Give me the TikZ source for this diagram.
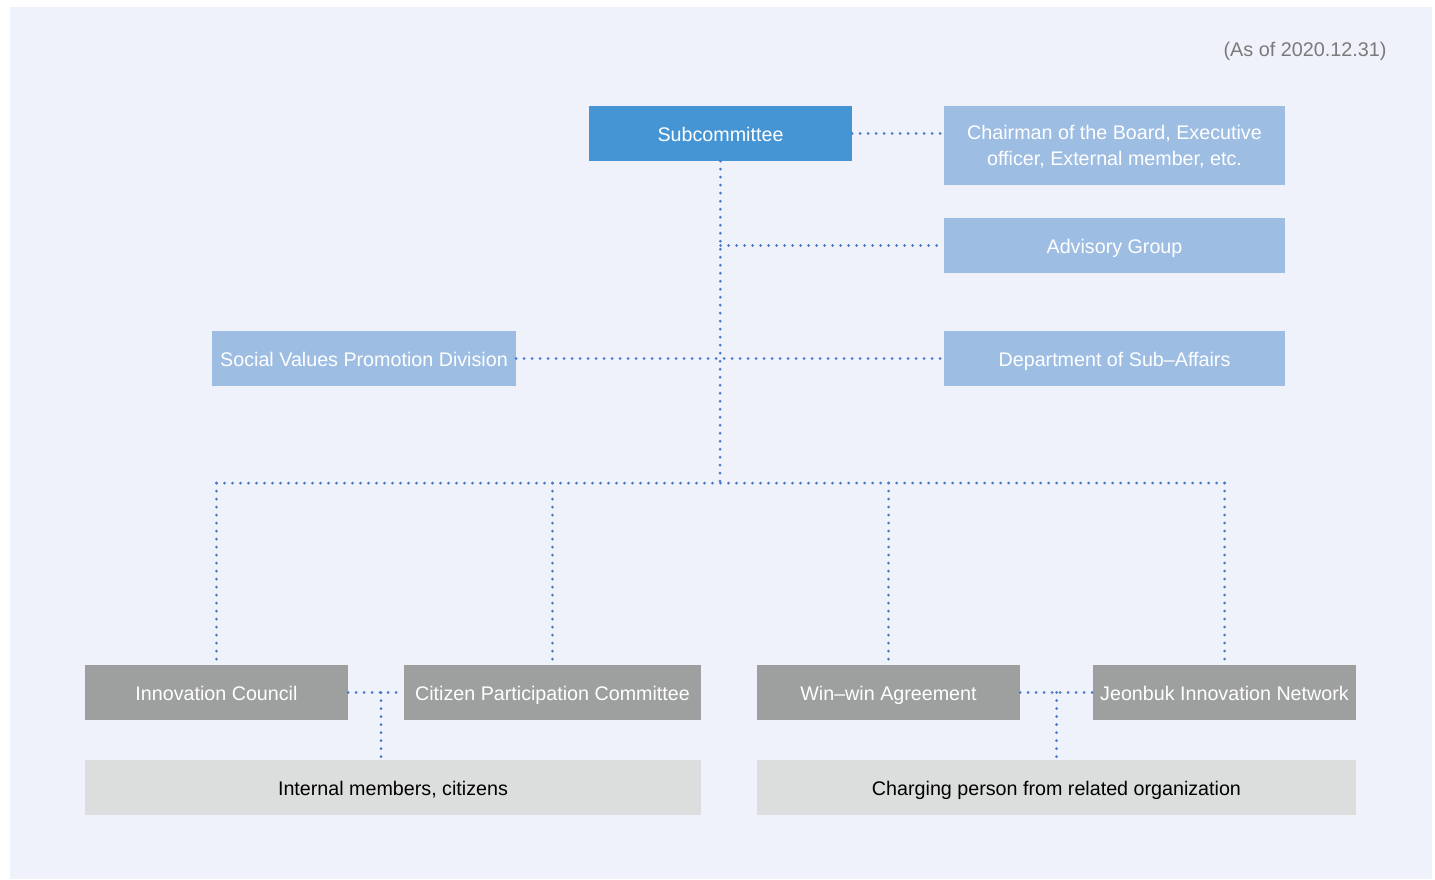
\documentclass[tikz,border=0pt]{standalone}
\usepackage{fontspec}
\setmainfont{Liberation Sans}
\usetikzlibrary{calc}
\definecolor{panel}{HTML}{EFF2FA}
\definecolor{topblue}{HTML}{4594D3}
\definecolor{lightblue}{HTML}{9DBDE3}
\definecolor{midgray}{HTML}{9E9F9F}
\definecolor{palegray}{HTML}{DCDDDD}
\definecolor{dotblue}{HTML}{4A78C9}
\definecolor{notegray}{HTML}{7A7A7A}
\tikzset{
  box/.style={rectangle, inner sep=0pt, minimum height=55pt, align=center,
    font=\fontsize{19.7}{26}\selectfont},
  onerow/.style={text height=18pt, text depth=2pt},
  headbox/.style={box, onerow, fill=topblue, text=white},
  bluebox/.style={box, fill=lightblue, text=white},
  graybox/.style={box, onerow, fill=midgray, text=white},
  palebox/.style={box, onerow, fill=palegray, text=black},
  link/.style={draw=dotblue, line width=3pt, line cap=round,
    dash pattern=on 0pt off 8pt}
}
\begin{document}
\begin{tikzpicture}[x=1pt,y=-1pt]
\useasboundingbox (0,0) rectangle (1435,879);
\fill[panel] (10,7) rectangle (1432,879);

\node[anchor=east, text=notegray, font=\fontsize{19.8}{22}\selectfont]
  (date) at (1390,51) {(As of 2020.12.31)};

% top level
\node[headbox, minimum width=263pt] (sub) at (720.5,133.5) {Subcommittee};
\node[bluebox, minimum width=341pt, minimum height=79pt, text depth=0pt] (chair) at (1114.5,145.5)
  {Chairman of the Board, Executive\\officer, External member, etc.};
\node[bluebox, onerow, minimum width=341pt] (adv) at (1114.5,245.5) {Advisory Group};
\node[bluebox, onerow, minimum width=341pt] (dept) at (1114.5,358.5) {Department of Sub\textendash Affairs};
\node[bluebox, onerow, minimum width=304pt] (social) at (364,358.5) {Social Values Promotion Division};

% bottom row
\node[graybox, minimum width=263pt] (inno) at (216.5,692.5) {Innovation Council};
\node[graybox, minimum width=297pt] (citizen) at (552.5,692.5) {Citizen Participation Committee};
\node[graybox, minimum width=263pt] (win) at (888.5,692.5) {Win\textendash win Agreement};
\node[graybox, minimum width=263pt] (jeon) at (1224.5,692.5) {Jeonbuk Innovation Network};
\node[palebox, minimum width=616pt] (internal) at (393,787.5) {Internal members, citizens};
\node[palebox, minimum width=599pt] (charging) at (1056.5,787.5) {Charging person from related organization};

% connectors
\coordinate (hub) at (720,483);
\path[link] (sub.south) -- (hub);
\path[link] (sub.east) -- (sub.east -| chair.west);
\path[link] (adv.west -| sub.south) -- (adv.west);
\path[link] (social.east) -- (dept.west);
\path[link] (inno.north |- hub) -- (jeon.north |- hub);
\foreach \n in {inno,citizen,win,jeon}
  \path[link] (\n.north |- hub) -- (\n.north);
\coordinate (lj) at ($(inno.east)!0.59!(citizen.west)$);
\coordinate (rj) at ($(win.east)!0.5!(jeon.west)$);
\path[link] (inno.east) -- (citizen.west);
\path[link] (lj) -- (lj |- internal.north);
\path[link] (win.east) -- (jeon.west);
\path[link] (rj) -- (rj |- charging.north);
\end{tikzpicture}
\end{document}
